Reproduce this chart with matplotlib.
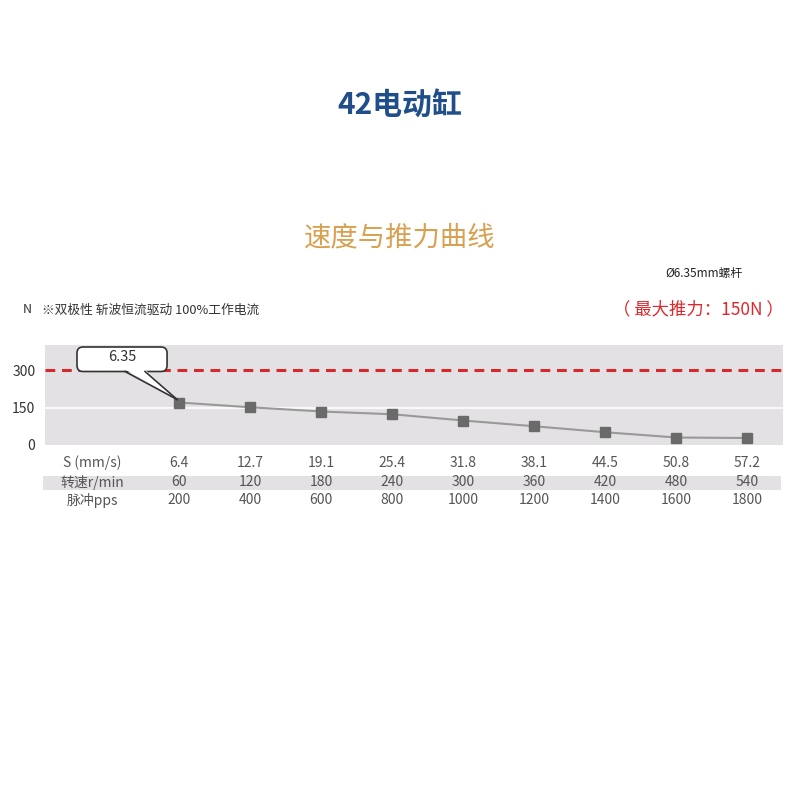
import matplotlib
matplotlib.use("Agg")
import matplotlib.pyplot as plt
from matplotlib.patches import FancyBboxPatch, Polygon, Rectangle
import numpy as np

plt.rcParams['font.family'] = ['Noto Sans CJK SC', 'DejaVu Sans']

# ---- data ----
speed_labels = ["6.4", "12.7", "19.1", "25.4", "31.8", "38.1", "44.5", "50.8", "57.2"]
rpm_labels = ["60", "120", "180", "240", "300", "360", "420", "480", "540"]
pps_labels = ["200", "400", "600", "800", "1000", "1200", "1400", "1600", "1800"]
thrust = [170, 151, 134, 123, 98, 75, 51, 30, 28]
row_names = ["S (mm/s)", "转速r/min", "脉冲pps"]
y_ticks = [0, 150, 300]
max_line = 300
screw_label = "6.35"

title = "42电动缸"
subtitle = "速度与推力曲线"
screw_note = "Ø6.35mm螺杆"
drive_note = "※双极性 斩波恒流驱动 100%工作电流"
max_note = "（ 最大推力：150N ）"

# ---- figure ----
fig = plt.figure(figsize=(8, 8), dpi=100)
W, H = 800, 800
ax_l, ax_r, ax_t, ax_b = 45, 783, 345, 445
ax = fig.add_axes([ax_l / W, 1 - ax_b / H, (ax_r - ax_l) / W, (ax_b - ax_t) / H])
ax.set_facecolor('#e4e1e4')
for s in ax.spines.values():
    s.set_visible(False)

x = np.arange(len(thrust))
ax.set_xlim(-1.887, 8.5)
ax.set_ylim(0, 400)
ax.set_xticks([])
ax.set_yticks(y_ticks)
ax.set_yticklabels([str(v) for v in y_ticks], fontsize=10, color='#333333')
ax.tick_params(axis='y', length=0, pad=7)

ax.axhline(150, color='white', lw=1.2, zorder=1)
ax.axhline(max_line, color='#d42a2a', lw=2.2, dashes=(3.2, 2.2), zorder=2)

ax.plot(x, thrust, color='#999999', lw=1.5, zorder=3)
ax.plot(x, thrust, ls='none', marker='s', ms=7.5, color='#6a6a6a', zorder=4)

# ---- callout ----
px_x = 1 / 71.0        # data x units per pixel
px_y = 150 / 37.4      # data y units per pixel
bx0, bx1 = x[0] + (77 - 179) * px_x, x[0] + (167 - 179) * px_x
by0, by1 = 294, 392
box = FancyBboxPatch((bx0, by0), bx1 - bx0, by1 - by0,
                     boxstyle="round,pad=0,rounding_size=%f" % (6 * px_x),
                     mutation_aspect=px_y / px_x,
                     fc='white', ec='#333333', lw=1.2, zorder=6, clip_on=False)
ax.add_patch(box)
t0 = bx0 + 48 * px_x
t1 = bx0 + 68 * px_x
tip = (x[0] - 2 * px_x, thrust[0] + 3 * px_y)
ax.add_patch(Polygon([(t0, by0 + 2 * px_y), (t1, by0 + 2 * px_y), tip], closed=True,
                     fc='white', ec='none', zorder=7, clip_on=False))
ax.plot([t0, tip[0]], [by0, tip[1]], color='#333333', lw=1.2, zorder=8, clip_on=False)
ax.plot([t1, tip[0]], [by0, tip[1]], color='#333333', lw=1.2, zorder=8, clip_on=False)
ax.text((bx0 + bx1) / 2, (by0 + by1) / 2 + 2 * px_y, screw_label, ha='center', va='center',
        fontsize=10.5, color='#333333', zorder=9)

# ---- table below ----
trans = ax.get_xaxis_transform()
def ay(py):
    return (ax_b - py) / (ax_b - ax_t)

band_x0, band_x1 = x[0] + (43 - 179) * px_x, x[0] + (781 - 179) * px_x
ax.add_patch(Rectangle((band_x0, ay(490)), band_x1 - band_x0, ay(476) - ay(490),
                       transform=trans, fc='#e4e1e4', ec='none', clip_on=False, zorder=0))
rows = [speed_labels, rpm_labels, pps_labels]
row_y = [463, 482, 500]
label_x = x[0] + (92 - 179) * px_x
for name, vals, py in zip(row_names, rows, row_y):
    ax.text(label_x, ay(py), name, transform=trans, ha='center', va='center',
            fontsize=10, color='#555555', clip_on=False)
    for xi, v in zip(x, vals):
        ax.text(xi, ay(py), v, transform=trans, ha='center', va='center',
                fontsize=10, color='#555555', clip_on=False)

# ---- texts ----
fig.text(0.5, 1 - 105 / H, title, ha='center', va='center', fontsize=21.5,
         fontweight='bold', color='#1f4e8a')
fig.text(0.5, 1 - 238 / H, subtitle, ha='center', va='center', fontsize=19.7,
         color='#d9a04f')
fig.text(665 / W, 1 - 273 / H, screw_note, ha='left', va='center', fontsize=8.5,
         color='#222222')
fig.text(23 / W, 1 - 310 / H, "N", ha='left', va='center', fontsize=9, color='#333333')
fig.text(42 / W, 1 - 310 / H, drive_note, ha='left', va='center', fontsize=9.2, color='#333333')
fig.text(698 / W, 1 - 309 / H, max_note, ha='center', va='center', fontsize=12.5,
         color='#e0262b')

fig.savefig("out.png", dpi=100, facecolor='white')
